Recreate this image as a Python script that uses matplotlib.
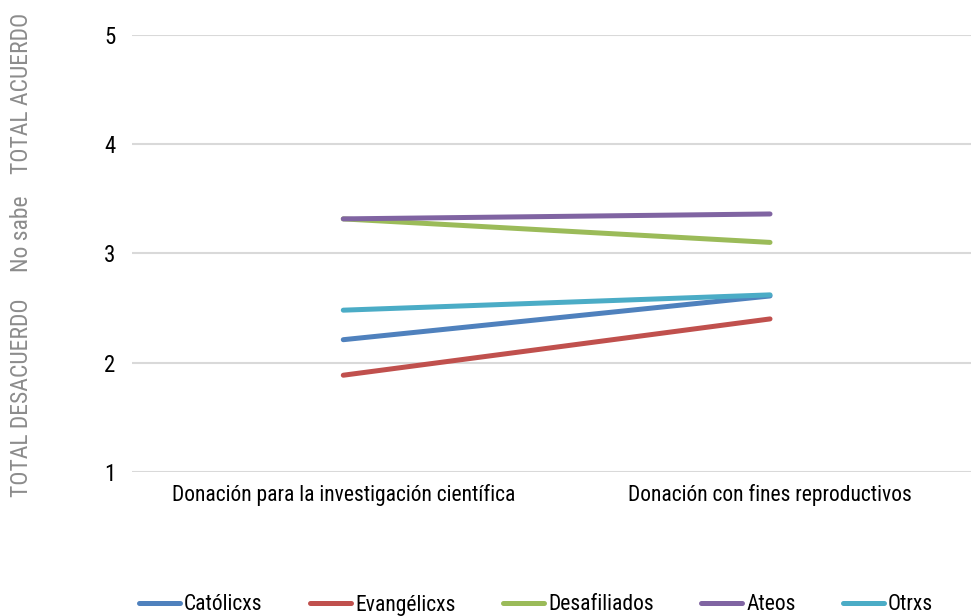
import matplotlib.pyplot as plt
from matplotlib import font_manager

# look for a condensed face (reference uses a narrow sans)
fonts = font_manager.fontManager.ttflist
narrow = [f for f in fonts if ('Condensed' in f.fname or 'Narrow' in f.fname)
          and 'Bold' not in f.fname and 'Oblique' not in f.fname and 'Italic' not in f.fname]
pick = None
for key in ['RobotoCondensed', 'Roboto_Condensed', 'LiberationSansNarrow', 'DejaVuSansCondensed']:
    for f in narrow:
        if key.lower() in f.fname.lower().replace('-', ''):
            pick = f
            break
    if pick:
        break
if pick:
    plt.rcParams['font.family'] = [pick.name, 'DejaVu Sans']
    plt.rcParams['font.stretch'] = pick.stretch
    plt.rcParams['font.weight'] = pick.weight if isinstance(pick.weight, int) else 'normal'

categories = ['Donación para la investigación científica', 'Donación con fines reproductivos']
series = ['Católicxs', 'Evangélicxs', 'Desafiliados', 'Ateos', 'Otrxs']
catolicos = [2.21, 2.61]
evangelicos = [1.885, 2.40]
desafiliados = [3.315, 3.10]
ateos = [3.315, 3.36]
otros = [2.48, 2.62]
values = [catolicos, evangelicos, desafiliados, ateos, otros]
colors = ['#4F81BD', '#C0504D', '#9BBB59', '#8064A2', '#4BACC6']

fig = plt.figure(figsize=(9.71, 6.16), dpi=100)
ax = fig.add_axes([0.136, 0.2338, 0.864, 0.7099])

x = list(range(len(categories)))
for name, vals, c in zip(series, values, colors):
    ax.plot(x, vals, color=c, linewidth=3.6, solid_capstyle='round', label=name)

ax.set_xlim(-0.495, 1.471)
ax.set_ylim(1, 5)
ax.set_yticks([1, 2, 3, 4, 5])
ax.set_xticks(x)
ax.set_xticklabels(categories, fontsize=15.5)
ax.tick_params(axis='y', labelsize=16.5, length=0, pad=12)
ax.tick_params(axis='x', length=0, pad=9)
ax.grid(axis='y', color='#D9D9D9', linewidth=1.5)
ax.set_axisbelow(True)
for s in ax.spines.values():
    s.set_visible(False)

# side annotations
side = [('TOTAL ACUERDO', 93), ('No sabe', 234), ('TOTAL DESACUERDO', 398)]
for txt, ypx in side:
    fig.text(22 / 971, 1 - ypx / 616, txt, rotation=90, ha='center', va='center',
             color='#8C8C8C', fontsize=17)

fig.legend(loc='center', bbox_to_anchor=(0.552, 1 - 605 / 616), ncol=5, frameon=False,
           fontsize=15.5, handlelength=1.9, handletextpad=0.2, columnspacing=2.2)

fig.savefig('out.png', dpi=100)
